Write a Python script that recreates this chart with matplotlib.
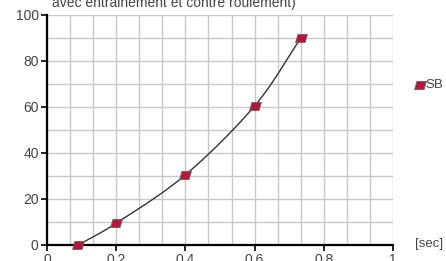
import numpy as np
import matplotlib.pyplot as plt
from matplotlib.path import Path

# data
x_sec = [0.09, 0.2, 0.4, 0.6, 0.733]
y_val = [0.0, 9.5, 30.5, 60.5, 89.8]
series_name = "SB"
x_ticks = [0, 0.2, 0.4, 0.6, 0.8, 1]
y_ticks = [0, 20, 40, 60, 80, 100]

plt.rcParams['font.family'] = ['Liberation Sans', 'DejaVu Sans']

# parallelogram marker
para = Path([(-0.5, -0.35), (0.3, -0.35), (0.5, 0.35), (-0.3, 0.35), (-0.5, -0.35)],
            [Path.MOVETO, Path.LINETO, Path.LINETO, Path.LINETO, Path.CLOSEPOLY])


def catmull(xs, ys, n=30):
    # smooth line through the points (drawing only)
    px = np.array(xs); py = np.array(ys)
    px = np.concatenate([[2 * px[0] - px[1]], px, [2 * px[-1] - px[-2]]])
    py = np.concatenate([[2 * py[0] - py[1]], py, [2 * py[-1] - py[-2]]])
    ox, oy = [], []
    for i in range(1, len(px) - 2):
        t = np.linspace(0, 1, n)
        for arr, out in ((px, ox), (py, oy)):
            p0, p1, p2, p3 = arr[i - 1:i + 3]
            out.extend(0.5 * ((2 * p1) + (-p0 + p2) * t
                              + (2 * p0 - 5 * p1 + 4 * p2 - p3) * t ** 2
                              + (-p0 + 3 * p1 - 3 * p2 + p3) * t ** 3))
    return ox, oy


fig = plt.figure(figsize=(4.46, 2.61), dpi=100)
ax = fig.add_axes([47 / 446, 16 / 261, 346 / 446, 230 / 261])

cx, cy = catmull(x_sec, y_val)
ax.plot(cx, cy, color='#333333', lw=1.0, zorder=3)
ax.plot(x_sec, y_val, linestyle='none', marker=para, markersize=8.5,
        markerfacecolor='#b5173a', markeredgecolor='#666666', markeredgewidth=0.6,
        zorder=4, clip_on=False)

ax.set_xlim(0, 1)
ax.set_ylim(0, 100)
ax.set_xticks(np.linspace(0, 1, 16), minor=True)
ax.set_yticks(np.arange(0, 101, 10), minor=True)
ax.set_xticks(x_ticks)
ax.set_yticks(y_ticks)
ax.set_xticklabels(['0', '0.2', '0.4', '0.6', '0.8', '1'])
ax.grid(which='both', color='#c8c8c8', lw=1.0)
ax.tick_params(which='minor', length=0)
ax.tick_params(which='major', length=4, width=1.2, color='black',
               labelsize=10, labelcolor='#444444', pad=2)
for s in ('top', 'right'):
    ax.spines[s].set_visible(False)
for s in ('left', 'bottom'):
    ax.spines[s].set_linewidth(1.6)
ax.set_axisbelow(True)

fig.text(52 / 446, 1 - 3 / 261, "avec entrainement et contre roulement)",
         fontsize=10, color='#444444', va='center', ha='left')
fig.text(415 / 446, 1 - 244 / 261, "[sec]", fontsize=9.5, color='#444444',
         va='center', ha='left')

# legend
fig.lines.append(plt.Line2D([420 / 446], [1 - 85 / 261], transform=fig.transFigure,
                            linestyle='none', marker=para, markersize=8.5,
                            markerfacecolor='#b5173a', markeredgecolor='#666666',
                            markeredgewidth=0.6))
fig.text(425 / 446, 1 - 85 / 261, series_name, fontsize=9.5, color='#444444',
         va='center', ha='left')

fig.savefig('out.png', dpi=100)
